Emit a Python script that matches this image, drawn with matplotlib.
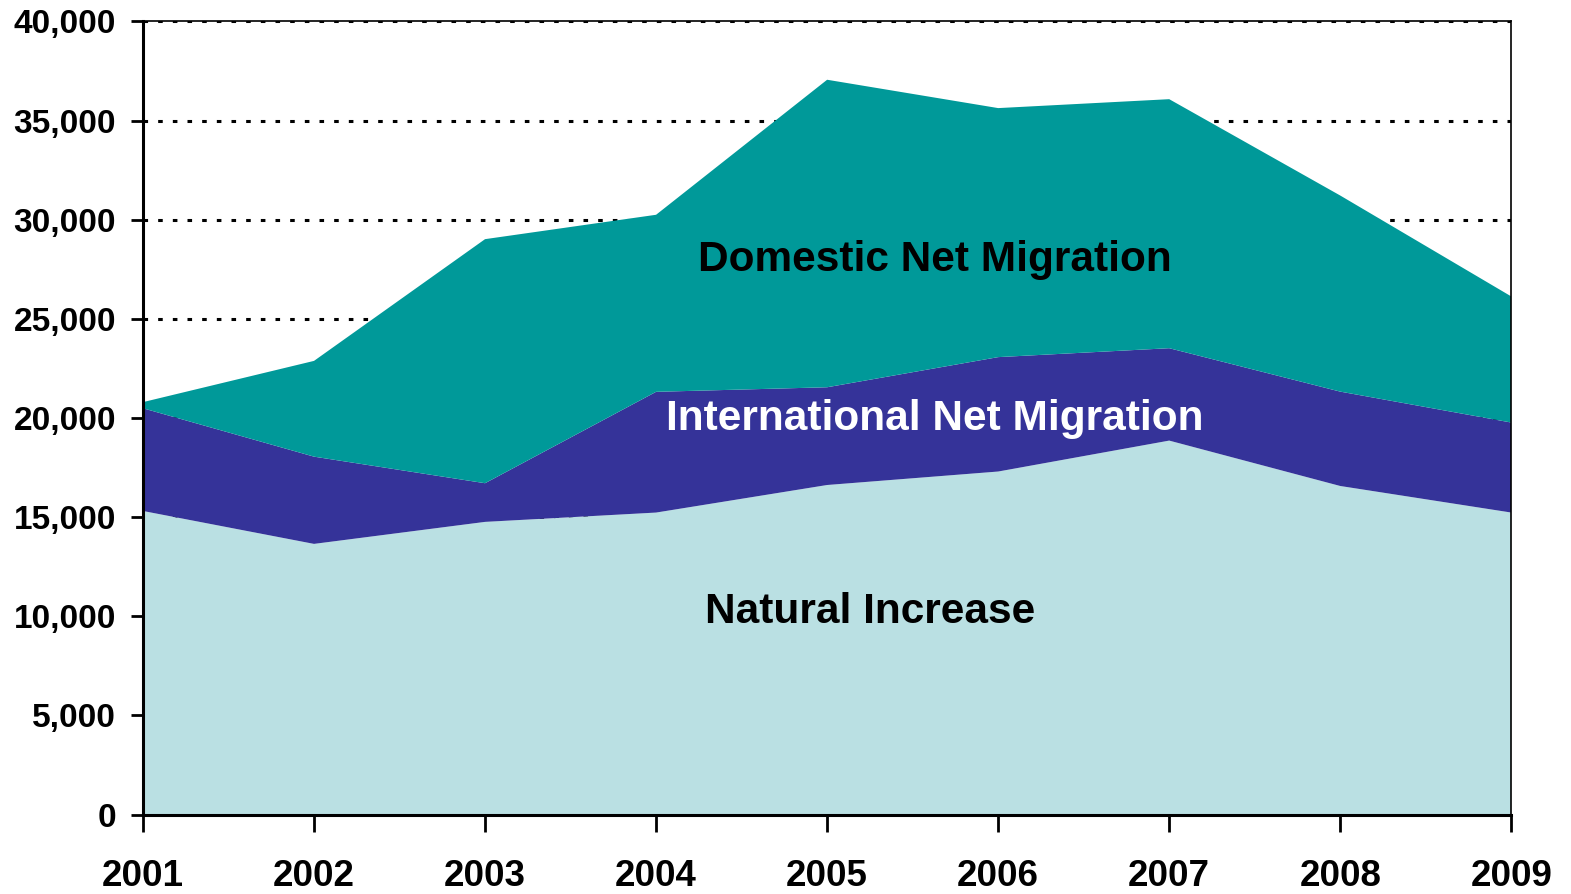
import matplotlib
matplotlib.use("Agg")
import matplotlib.pyplot as plt
from matplotlib.ticker import FuncFormatter
from matplotlib import font_manager

years = [2001, 2002, 2003, 2004, 2005, 2006, 2007, 2008, 2009]
natural_increase = [15310, 13650, 14760, 15230, 16620, 17300, 18860, 16570, 15230]
international_net = [5180, 4400, 1950, 6090, 4930, 5770, 4660, 4760, 4540]
domestic_net = [310, 4830, 12310, 8930, 15510, 12560, 12560, 9890, 6360]
series_labels = ["Natural Increase", "International Net Migration", "Domestic Net Migration"]
y_ticks = [0, 5000, 10000, 15000, 20000, 25000, 30000, 35000, 40000]

colors = ["#BAE0E3", "#353399", "#009999"]

names = {f.name for f in font_manager.fontManager.ttflist}
main_font = "Liberation Sans" if "Liberation Sans" in names else "DejaVu Sans"

fig = plt.figure(figsize=(15.71, 8.94), dpi=100)
ax = fig.add_axes([0.0910, 0.0889, 0.9620 - 0.0910, 0.976 - 0.0889])

ax.stackplot(years, natural_increase, international_net, domestic_net,
             colors=colors, linewidth=0, zorder=2)

ax.set_xlim(years[0], years[-1])
ax.set_ylim(0, 40000)
ax.set_yticks(y_ticks)
ax.set_xticks(years)
ax.yaxis.set_major_formatter(FuncFormatter(lambda v, p: f"{int(v):,}"))

for t in y_ticks[1:]:
    ax.axhline(t, color="black", linestyle=(0, (1.5, 3.3)), linewidth=2.2, zorder=1)

for lab in ax.get_yticklabels():
    lab.set_fontfamily(main_font)
    lab.set_fontweight("bold")
    lab.set_fontsize(24)
for lab in ax.get_xticklabels():
    lab.set_fontfamily(main_font)
    lab.set_fontweight("bold")
    lab.set_fontsize(26.5)

ax.tick_params(axis="y", direction="out", length=9, width=2, pad=10.5)
ax.tick_params(axis="x", direction="out", length=12, width=2, pad=20)

for side in ["left", "bottom"]:
    ax.spines[side].set_linewidth(2.2)
    ax.spines[side].set_zorder(5)
for side in ["top", "right"]:
    ax.spines[side].set_linewidth(1.2)
    ax.spines[side].set_zorder(5)

ax.text(2005.63, 27950, series_labels[2], ha="center", va="center",
        fontsize=30.5, fontweight="bold", family=main_font, color="black", zorder=4)
ax.text(2005.63, 19930, series_labels[1], ha="center", va="center",
        fontsize=30.5, fontweight="bold", family=main_font, color="white", zorder=4)
ax.text(2005.25, 10200, series_labels[0], ha="center", va="center",
        fontsize=30.5, fontweight="bold", family=main_font, color="black", zorder=4)

fig.savefig("out.png", dpi=100)
